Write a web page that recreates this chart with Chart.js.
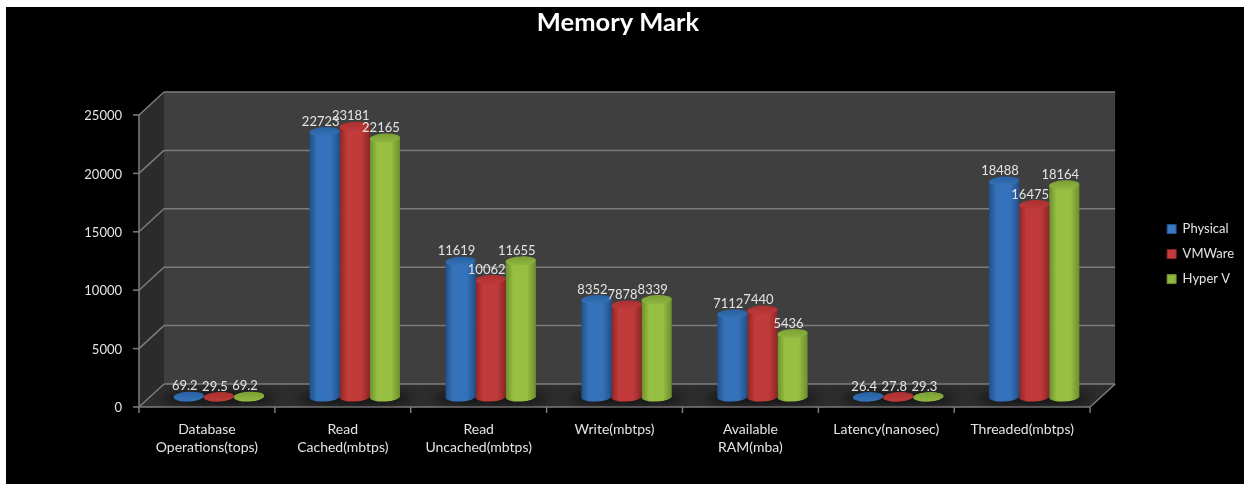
<!DOCTYPE html>
<html>
<head>
<meta charset="utf-8">
<title>Memory Mark</title>
<script src="https://cdn.jsdelivr.net/npm/chart.js@4"></script>
<style>
    html, body { margin: 0; padding: 0; background: #fff; }
    canvas { display: block; }
</style>
</head>
<body>
<canvas id="memoryChart" width="1244" height="484"></canvas>
<script>
const categories = [
    ['Database', 'Operations(tops)'],
    ['Read', 'Cached(mbtps)'],
    ['Read', 'Uncached(mbtps)'],
    'Write(mbtps)',
    ['Available', 'RAM(mba)'],
    'Latency(nanosec)',
    'Threaded(mbtps)'
];
const physical = [69.2, 22723, 11619, 8352, 7112, 26.4, 18488];
const vmware = [29.5, 23181, 10062, 7878, 7440, 27.8, 16475];
const hyperV = [69.2, 22165, 11655, 8339, 5436, 29.3, 18164];

const FONT = 'Lato, "Open Sans", sans-serif';
const TEXT_COLOR = '#e4e4e4';
const CATEGORY_PERCENT = 0.665;

// Colores del cilindro: borde, centro, tapa oscura, tapa clara
const palette = {
    blue: { edge: '#21508a', mid: '#3473bb', capTop: '#27609f', capBottom: '#3572b8', legend: '#3b78c4' },
    red: { edge: '#8d2626', mid: '#c23b3b', capTop: '#ab3030', capBottom: '#bd3939', legend: '#c43c3c' },
    green: { edge: '#6d8e2c', mid: '#97c043', capTop: '#7a9f34', capBottom: '#8fb73f', legend: '#8fb83e' }
};

// Desplazamiento de los planos frontal y trasero respecto al plano de las barras
const FRONT = { x: -12, y: 10 };
const BACK = { x: 13, y: -13 };
const CAP_RY = 4.5;
const CAP_TILT = -0.05;

function barGradient(ctx, colors) {
    const chart = ctx.chart;
    const xScale = chart.scales.x;
    if (ctx.dataIndex === undefined || !xScale) return colors.legend;
    const width = xScale.width / categories.length * CATEGORY_PERCENT / 3;
    const center = xScale.getPixelForValue(ctx.dataIndex) + (ctx.datasetIndex - 1) * width;
    // Antes del primer layout la escala aun no tiene medidas
    if (!Number.isFinite(center) || !Number.isFinite(width)) return colors.legend;
    const g = chart.ctx.createLinearGradient(center - width / 2, 0, center + width / 2, 0);
    g.addColorStop(0, colors.edge);
    g.addColorStop(0.25, colors.mid);
    g.addColorStop(0.7, colors.mid);
    g.addColorStop(1, colors.edge);
    return g;
}

function makeSeries(label, data, colors) {
    return {
        label: label,
        data: data,
        colors: colors,
        backgroundColor: (ctx) => barGradient(ctx, colors),
        borderWidth: 0
    };
}

function polygon(ctx, points, fill) {
    ctx.beginPath();
    points.forEach((p, i) => (i ? ctx.lineTo(p[0], p[1]) : ctx.moveTo(p[0], p[1])));
    ctx.closePath();
    ctx.fillStyle = fill;
    ctx.fill();
}

function line(ctx, x1, y1, x2, y2) {
    ctx.beginPath();
    ctx.moveTo(x1, y1);
    ctx.lineTo(x2, y2);
    ctx.stroke();
}

// Fondo negro con el margen blanco arriba y a la izquierda
const backdrop = {
    id: 'backdrop',
    beforeDraw(chart) {
        chart.ctx.fillStyle = '#000';
        chart.ctx.fillRect(6, 7, chart.width - 6, chart.height - 7);
    }
};

// Paredes, suelo, rejilla y marcas del eje en perspectiva
const walls = {
    id: 'walls',
    beforeDatasetsDraw(chart) {
        const ctx = chart.ctx;
        const area = chart.chartArea;
        const xScale = chart.scales.x;
        const yScale = chart.scales.y;
        const fl = area.left + FRONT.x, fr = area.right + FRONT.x;
        const bl = area.left + BACK.x, br = area.right + BACK.x;
        const fb = area.bottom + FRONT.y, ft = area.top + FRONT.y;
        const bb = area.bottom + BACK.y, bt = area.top + BACK.y;

        ctx.save();
        polygon(ctx, [[bl, bt], [br, bt], [br, bb], [bl, bb]], '#3f3f3f');
        polygon(ctx, [[fl, ft], [bl, bt], [bl, bb], [fl, fb]], '#2b2b2b');
        polygon(ctx, [[fl, fb], [bl, bb], [br, bb], [fr, fb]], '#2d2d2d');

        ctx.strokeStyle = '#7c7c7c';
        ctx.lineWidth = 1.5;
        yScale.ticks.forEach((tick) => {
            const y = yScale.getPixelForValue(tick.value);
            line(ctx, fl, y + FRONT.y, bl, y + BACK.y);
            line(ctx, bl, y + BACK.y, br, y + BACK.y);
            line(ctx, fl - 6, y + FRONT.y, fl, y + FRONT.y);
        });
        line(ctx, fl, ft, fl, fb);
        line(ctx, fl, fb, fr, fb);
        line(ctx, fr, fb, br, bb);
        const step = xScale.width / categories.length;
        for (let i = 0; i <= categories.length; i++) {
            const x = fl + step * i;
            line(ctx, x, fb, x, fb + 6);
        }

        // Sombra de cada grupo de barras sobre el suelo
        ctx.filter = 'blur(5px)';
        ctx.fillStyle = 'rgba(0, 0, 0, 0.6)';
        categories.forEach((c, i) => {
            ctx.beginPath();
            ctx.ellipse(xScale.getPixelForValue(i), area.bottom + 1, step * 0.42, 6, 0, 0, Math.PI * 2);
            ctx.fill();
        });
        ctx.restore();
    }
};

// Tapas elipticas que convierten cada barra en un cilindro
const cylinderCaps = {
    id: 'cylinderCaps',
    beforeDatasetDraw(chart, args) {
        const ctx = chart.ctx;
        ctx.save();
        args.meta.data.forEach((bar) => {
            ctx.fillStyle = bar.options.backgroundColor;
            ctx.beginPath();
            ctx.ellipse(bar.x, bar.base, bar.width / 2, CAP_RY, CAP_TILT, 0, Math.PI * 2);
            ctx.fill();
        });
        ctx.restore();
    },
    afterDatasetDraw(chart, args) {
        const ctx = chart.ctx;
        const colors = chart.data.datasets[args.index].colors;
        ctx.save();
        args.meta.data.forEach((bar) => {
            const g = ctx.createLinearGradient(0, bar.y - CAP_RY, 0, bar.y + CAP_RY);
            g.addColorStop(0, colors.capTop);
            g.addColorStop(1, colors.capBottom);
            ctx.fillStyle = g;
            ctx.beginPath();
            ctx.ellipse(bar.x, bar.y, bar.width / 2, CAP_RY, CAP_TILT, 0, Math.PI * 2);
            ctx.fill();
        });
        ctx.restore();
    }
};

// Valor encima de cada cilindro
const valueLabels = {
    id: 'valueLabels',
    afterDatasetsDraw(chart) {
        const ctx = chart.ctx;
        ctx.save();
        ctx.font = '13px ' + FONT;
        ctx.fillStyle = TEXT_COLOR;
        ctx.textAlign = 'center';
        ctx.textBaseline = 'middle';
        chart.data.datasets.forEach((ds, i) => {
            chart.getDatasetMeta(i).data.forEach((bar, j) => {
                ctx.fillText(String(ds.data[j]), bar.x - 4, bar.y - 10);
            });
        });
        ctx.restore();
    }
};

new Chart(document.getElementById('memoryChart'), {
    type: 'bar',
    data: {
        labels: categories,
        datasets: [
            makeSeries('Physical', physical, palette.blue),
            makeSeries('VMWare', vmware, palette.red),
            makeSeries('Hyper V', hyperV, palette.green)
        ]
    },
    options: {
        responsive: false,
        animation: false,
        // El titulo queda centrado 4px a la izquierda del lienzo
        layout: { padding: { left: -8, right: 0 } },
        datasets: { bar: { categoryPercentage: CATEGORY_PERCENT, barPercentage: 1 } },
        scales: {
            x: {
                grid: { display: false },
                border: { display: false },
                ticks: {
                    color: TEXT_COLOR,
                    font: { family: FONT, size: 14, lineHeight: 1.25 },
                    padding: 16,
                    labelOffset: FRONT.x,
                    autoSkip: false,
                    maxRotation: 0
                },
                afterFit: (scale) => { scale.height = 87; }
            },
            y: {
                min: 0,
                max: 25000,
                grid: { display: false },
                border: { display: false },
                ticks: {
                    stepSize: 5000,
                    color: TEXT_COLOR,
                    font: { family: FONT, size: 13 },
                    padding: 21,
                    labelOffset: FRONT.y + 1,
                    callback: (value) => String(value)
                },
                afterFit: (scale) => { scale.width = 159; }
            },
            // Eje vacio que reserva el hueco entre el grafico y la leyenda
            legendGap: {
                position: 'right',
                min: 0,
                max: 1,
                grid: { display: false },
                border: { display: false },
                ticks: { display: false },
                afterFit: (scale) => { scale.width = 53; }
            }
        },
        plugins: {
            title: {
                display: true,
                text: 'Memory Mark',
                color: '#fff',
                font: { family: FONT, size: 25.5, weight: 'bold', lineHeight: 1.2 },
                padding: { top: 7, bottom: 67.4 }
            },
            legend: {
                position: 'right',
                fullSize: false,
                // Titulo vacio: baja las filas de la leyenda unos pixeles
                title: { display: true, text: ' ', font: { size: 1 }, padding: { top: 5, bottom: 0 } },
                labels: {
                    color: TEXT_COLOR,
                    font: { family: FONT, size: 13 },
                    boxWidth: 9,
                    boxHeight: 9,
                    padding: 12,
                    // La muestra usa color plano, no el degradado de la barra
                    generateLabels: (chart) => Chart.defaults.plugins.legend.labels.generateLabels(chart).map((item) => {
                        const colors = chart.data.datasets[item.datasetIndex].colors;
                        return { ...item, fillStyle: colors.legend, strokeStyle: colors.edge, lineWidth: 1 };
                    })
                }
            },
            tooltip: { enabled: false }
        }
    },
    plugins: [backdrop, walls, cylinderCaps, valueLabels]
});
</script>
</body>
</html>
